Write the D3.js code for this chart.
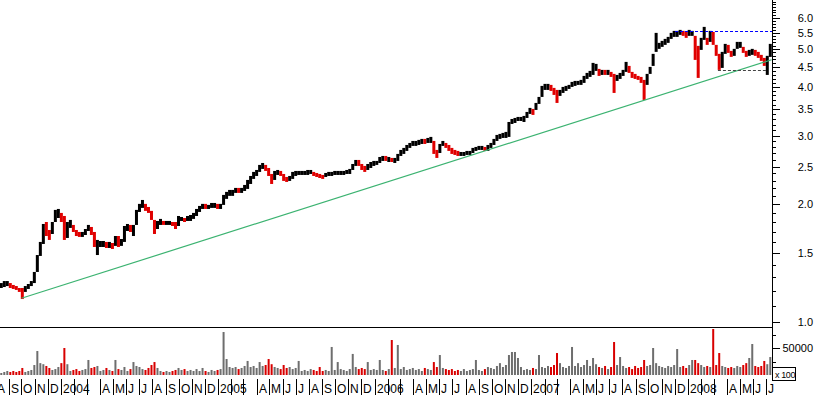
<!DOCTYPE html>
<html lang="en">
<head>
<meta charset="UTF-8">
<title>Weekly price chart</title>
<script src="https://d3js.org/d3.v7.min.js"></script>
<style>
  body { margin: 0; background: #fff; }
  svg { display: block; font-family: "Liberation Sans", Arial, sans-serif; }
</style>
</head>
<body>
<script>
// weekly bars, first one ends on this Friday
var firstWeek = new Date(2003, 7, 15);

var closes = [
  1.236, 1.251, 1.258, 1.236, 1.229, 1.222, 1.208, 1.201, 1.222, 1.236,
  1.258, 1.311, 1.458, 1.566, 1.741, 1.720, 1.660, 1.761, 1.902, 1.902,
  1.857, 1.660, 1.772, 1.782, 1.730, 1.690, 1.670, 1.670, 1.700, 1.741,
  1.700, 1.584, 1.584, 1.584, 1.584, 1.575, 1.575, 1.566, 1.622, 1.584,
  1.603, 1.720, 1.751, 1.730, 1.741, 1.879, 1.970, 2.017, 1.959, 1.936,
  1.879, 1.741, 1.772, 1.803, 1.793, 1.793, 1.793, 1.782, 1.772, 1.836,
  1.836, 1.825, 1.846, 1.846, 1.868, 1.913, 1.947, 1.982, 1.970, 1.970,
  1.982, 1.994, 1.970, 1.970, 2.078, 2.115, 2.140, 2.140, 2.178, 2.165,
  2.178, 2.204, 2.270, 2.324, 2.379, 2.407, 2.479, 2.509, 2.479, 2.407,
  2.297, 2.393, 2.422, 2.393, 2.337, 2.310, 2.324, 2.365, 2.407, 2.407,
  2.407, 2.407, 2.407, 2.422, 2.393, 2.379, 2.365, 2.351, 2.379, 2.393,
  2.393, 2.407, 2.407, 2.407, 2.407, 2.422, 2.422, 2.494, 2.568, 2.553,
  2.494, 2.450, 2.494, 2.524, 2.553, 2.553, 2.599, 2.630, 2.614, 2.614,
  2.599, 2.599, 2.645, 2.708, 2.741, 2.790, 2.839, 2.873, 2.873, 2.873,
  2.907, 2.890, 2.925, 2.925, 2.757, 2.677, 2.790, 2.873, 2.823, 2.790,
  2.741, 2.708, 2.693, 2.693, 2.693, 2.708, 2.708, 2.741, 2.773, 2.790,
  2.790, 2.773, 2.790, 2.839, 2.890, 2.959, 2.977, 2.994, 3.012, 3.157,
  3.270, 3.270, 3.309, 3.309, 3.309, 3.389, 3.470, 3.449, 3.574, 3.702,
  3.950, 3.997, 3.997, 3.974, 3.881, 3.791, 3.858, 3.927, 3.974, 3.997,
  4.069, 4.093, 4.093, 4.093, 4.190, 4.265, 4.316, 4.471, 4.471, 4.341,
  4.367, 4.341, 4.367, 4.290, 4.166, 4.215, 4.265, 4.341, 4.524, 4.419,
  4.290, 4.240, 4.215, 4.166, 3.881, 4.215, 4.419, 4.771, 5.061, 5.091,
  5.151, 5.212, 5.274, 5.400, 5.464, 5.464, 5.528, 5.496, 5.432, 5.496,
  5.496, 4.857, 4.687, 5.212, 5.528, 5.212, 5.464, 5.274, 4.914, 4.605,
  4.743, 5.061, 5.002, 4.857, 4.885, 5.091, 5.121, 4.972, 4.857, 4.885,
  4.914, 4.885, 4.828, 4.743, 4.632, 4.743, 4.972
];

var highs = [
  1.258, 1.273, 1.273, 1.258, 1.244, 1.236, 1.222, 1.222, 1.236, 1.251,
  1.273, 1.343, 1.484, 1.603, 1.782, 1.803, 1.720, 1.803, 1.936, 1.947,
  1.902, 1.868, 1.803, 1.825, 1.772, 1.720, 1.700, 1.700, 1.730, 1.772,
  1.751, 1.700, 1.622, 1.612, 1.612, 1.603, 1.603, 1.593, 1.660, 1.660,
  1.631, 1.761, 1.782, 1.772, 1.772, 1.936, 2.006, 2.053, 2.006, 1.970,
  1.925, 1.825, 1.814, 1.836, 1.814, 1.814, 1.814, 1.803, 1.803, 1.868,
  1.857, 1.846, 1.868, 1.879, 1.902, 1.947, 1.982, 2.006, 2.006, 1.994,
  2.017, 2.017, 2.006, 2.006, 2.115, 2.153, 2.178, 2.178, 2.204, 2.204,
  2.204, 2.243, 2.310, 2.365, 2.422, 2.450, 2.524, 2.553, 2.524, 2.479,
  2.393, 2.436, 2.450, 2.436, 2.393, 2.351, 2.365, 2.422, 2.436, 2.436,
  2.436, 2.436, 2.450, 2.450, 2.422, 2.407, 2.393, 2.379, 2.407, 2.422,
  2.422, 2.436, 2.436, 2.436, 2.436, 2.450, 2.465, 2.538, 2.599, 2.599,
  2.538, 2.509, 2.538, 2.568, 2.584, 2.584, 2.645, 2.661, 2.661, 2.645,
  2.630, 2.630, 2.693, 2.757, 2.790, 2.839, 2.873, 2.907, 2.907, 2.925,
  2.942, 2.942, 2.959, 2.977, 2.907, 2.757, 2.856, 2.907, 2.873, 2.839,
  2.790, 2.757, 2.741, 2.724, 2.724, 2.741, 2.741, 2.790, 2.806, 2.823,
  2.823, 2.806, 2.839, 2.873, 2.942, 3.012, 3.030, 3.048, 3.066, 3.251,
  3.309, 3.329, 3.349, 3.349, 3.369, 3.449, 3.532, 3.511, 3.637, 3.768,
  4.021, 4.069, 4.069, 4.045, 3.974, 3.927, 3.927, 3.997, 4.021, 4.045,
  4.117, 4.141, 4.141, 4.166, 4.265, 4.341, 4.393, 4.605, 4.578, 4.445,
  4.419, 4.419, 4.419, 4.367, 4.316, 4.290, 4.341, 4.419, 4.632, 4.524,
  4.367, 4.316, 4.265, 4.240, 4.166, 4.316, 4.498, 4.857, 5.496, 5.182,
  5.243, 5.305, 5.368, 5.496, 5.561, 5.561, 5.594, 5.561, 5.528, 5.594,
  5.561, 5.400, 5.091, 5.337, 5.694, 5.337, 5.561, 5.528, 5.121, 4.857,
  4.914, 5.151, 5.121, 4.943, 5.002, 5.212, 5.212, 5.061, 4.943, 4.972,
  5.002, 4.972, 4.914, 4.828, 4.743, 4.800, 5.151
];

var lows = [
  1.222, 1.229, 1.236, 1.222, 1.215, 1.208, 1.194, 1.145, 1.194, 1.215,
  1.236, 1.258, 1.343, 1.476, 1.584, 1.660, 1.622, 1.680, 1.803, 1.846,
  1.803, 1.622, 1.641, 1.741, 1.700, 1.660, 1.651, 1.651, 1.670, 1.710,
  1.670, 1.556, 1.484, 1.556, 1.556, 1.547, 1.547, 1.538, 1.566, 1.556,
  1.566, 1.603, 1.710, 1.700, 1.660, 1.772, 1.913, 1.959, 1.925, 1.902,
  1.825, 1.680, 1.730, 1.772, 1.772, 1.772, 1.772, 1.761, 1.730, 1.761,
  1.814, 1.803, 1.814, 1.814, 1.836, 1.868, 1.913, 1.947, 1.947, 1.947,
  1.959, 1.959, 1.947, 1.947, 1.994, 2.066, 2.103, 2.103, 2.140, 2.140,
  2.140, 2.165, 2.191, 2.256, 2.324, 2.365, 2.422, 2.465, 2.436, 2.365,
  2.256, 2.310, 2.379, 2.365, 2.297, 2.283, 2.297, 2.324, 2.365, 2.379,
  2.379, 2.379, 2.379, 2.393, 2.365, 2.351, 2.337, 2.324, 2.351, 2.365,
  2.365, 2.379, 2.379, 2.379, 2.379, 2.393, 2.393, 2.450, 2.509, 2.509,
  2.450, 2.422, 2.450, 2.479, 2.509, 2.524, 2.553, 2.584, 2.584, 2.568,
  2.568, 2.553, 2.584, 2.661, 2.693, 2.741, 2.790, 2.823, 2.823, 2.839,
  2.856, 2.856, 2.873, 2.873, 2.693, 2.630, 2.708, 2.823, 2.790, 2.741,
  2.693, 2.677, 2.661, 2.661, 2.661, 2.677, 2.677, 2.708, 2.741, 2.757,
  2.757, 2.741, 2.741, 2.790, 2.839, 2.907, 2.942, 2.959, 2.959, 2.977,
  3.213, 3.232, 3.270, 3.270, 3.251, 3.329, 3.409, 3.389, 3.490, 3.616,
  3.768, 3.927, 3.927, 3.904, 3.813, 3.637, 3.791, 3.858, 3.904, 3.950,
  3.997, 4.021, 4.045, 4.045, 4.093, 4.190, 4.240, 4.290, 4.393, 4.265,
  4.290, 4.290, 4.290, 4.240, 3.858, 4.141, 4.190, 4.265, 4.367, 4.341,
  4.215, 4.190, 4.166, 4.093, 3.702, 4.045, 4.316, 4.524, 4.914, 5.002,
  5.061, 5.121, 5.182, 5.305, 5.368, 5.368, 5.432, 5.400, 5.337, 5.400,
  5.400, 4.687, 4.215, 4.972, 5.274, 5.121, 5.212, 5.121, 4.800, 4.419,
  4.471, 4.857, 4.885, 4.771, 4.800, 5.002, 5.031, 4.885, 4.771, 4.800,
  4.828, 4.800, 4.743, 4.660, 4.524, 4.290, 4.771
];

// volume in units of 100 shares
var volumes = [
  3700, 5600, 7400, 5600, 7400, 5600, 7400, 13000, 5600, 7400,
  9300, 18500, 44400, 22000, 20000, 16700, 13000, 9300, 11000, 14800,
  22000, 50000, 20000, 7400, 9300, 11000, 7400, 9300, 11000, 27800,
  13000, 14800, 16700, 7400, 9300, 13000, 9300, 7400, 27800, 11000,
  9300, 14800, 7400, 11000, 24000, 16700, 14800, 11000, 9300, 13000,
  18500, 24000, 13000, 7400, 5600, 7400, 5600, 7400, 9300, 13000,
  9300, 11000, 7400, 9300, 7400, 11000, 7400, 13000, 7400, 5600,
  9300, 7400, 9300, 11000, 79600, 29600, 14800, 13000, 14800, 11000,
  13000, 16700, 26000, 14800, 16700, 13000, 24000, 16700, 18500, 29600,
  20000, 14800, 13000, 11000, 18500, 13000, 14800, 11000, 13000, 26000,
  7400, 9300, 7400, 11000, 9300, 7400, 14800, 7400, 9300, 7400,
  51900, 9300, 24000, 11000, 9300, 7400, 11000, 39000, 14800, 11000,
  13000, 11000, 24000, 9300, 11000, 9300, 27800, 9300, 7400, 11000,
  64800, 13000, 55600, 11000, 14800, 9300, 11000, 13000, 9300, 11000,
  7400, 13000, 11000, 9300, 24000, 14800, 37000, 13000, 11000, 9300,
  11000, 7400, 9300, 7400, 11000, 7400, 9300, 11000, 27800, 9300,
  7400, 11000, 14800, 13000, 11000, 16700, 22000, 14800, 18500, 37000,
  42600, 42600, 31500, 14800, 9300, 11000, 9300, 13000, 11000, 37000,
  14800, 13000, 16700, 14800, 18500, 40700, 22000, 14800, 13000, 16700,
  51900, 16700, 22000, 14800, 18500, 27800, 16700, 31500, 20000, 14800,
  13000, 16700, 11000, 14800, 61100, 18500, 33300, 16700, 13000, 14800,
  11000, 16700, 13000, 14800, 27800, 16700, 18500, 50000, 22000, 16700,
  14800, 13000, 16700, 14800, 18500, 48100, 14800, 16700, 13000, 18500,
  27800, 27800, 22000, 18500, 14800, 16700, 14800, 85200, 18500, 40700,
  16700, 14800, 13000, 14800, 13000, 16700, 14800, 18500, 22000, 31500,
  57400, 16700, 14800, 16700, 26000, 20000, 33300
];

// trend line through the 2003 low
var trendDates = [new Date(2003, 9, 1), new Date(2008, 6, 14)];
var trendPrices = [1.15, 4.69];

// horizontal levels
var topLevel = 5.56, topFrom = new Date(2007, 11, 2);
var supportLevel = 4.42, supportFrom = new Date(2008, 2, 11), supportTo = new Date(2008, 6, 1);

var monthLetters = ["J", "F", "M", "A", "M", "J", "J", "A", "S", "O", "N", "D"];
var priceTicks = d3.range(10, 67).map(function(d) { return d / 10; });
var priceLabels = [1.0, 1.5, 2.0, 2.5, 3.0, 3.5, 4.0, 4.5, 5.0, 5.5, 6.0];
var volumeTicks = [25000, 50000, 75000];

var width = 817, height = 395;
var axisX = 772;

var svg = d3.select("body").append("svg")
    .attr("width", width)
    .attr("height", height);

var x = d3.scaleTime()
    .domain([new Date(2003, 7, 12), new Date(2008, 6, 15)])
    .range([0, axisX]);
var y = d3.scaleLog().domain([1, 6]).range([322, 18]);
var yv = d3.scaleLinear().domain([0, 50000]).range([375, 348]);

var bars = closes.map(function(c, i) {
    return {
        date: d3.timeDay.offset(firstWeek, 7 * i),
        close: c, high: highs[i], low: lows[i], vol: volumes[i],
        down: i > 0 && c < closes[i - 1]
    };
});

// volume
svg.append("g").selectAll("rect")
    .data(bars).enter().append("rect")
    .attr("x", function(d) { return x(d.date) - 1; })
    .attr("width", 2)
    .attr("y", function(d) { return yv(d.vol); })
    .attr("height", function(d) { return yv(0) - yv(d.vol); })
    .attr("fill", function(d) { return d.down ? "#d80000" : "#6e6e6e"; });

// price bars
svg.append("g").selectAll("rect")
    .data(bars).enter().append("rect")
    .attr("x", function(d) { return x(d.date) - 1.5; })
    .attr("width", 3)
    .attr("y", function(d) { return y(d.high); })
    .attr("height", function(d) { return Math.max(1.5, y(d.low) - y(d.high)); })
    .attr("fill", function(d) { return d.down ? "#e00000" : "#000"; });

// trend + levels
var trend = d3.line()
    .x(function(d, i) { return x(trendDates[i]); })
    .y(function(d) { return y(d); });
svg.append("path")
    .attr("d", trend(trendPrices))
    .attr("fill", "none")
    .attr("stroke", "#3cb371")
    .attr("stroke-width", 1.2);

svg.append("line")
    .attr("x1", x(topFrom)).attr("x2", axisX)
    .attr("y1", Math.round(y(topLevel)) + 0.5).attr("y2", Math.round(y(topLevel)) + 0.5)
    .attr("stroke", "#0000ff").attr("stroke-dasharray", "3,2");

svg.append("line")
    .attr("x1", x(supportFrom)).attr("x2", x(supportTo))
    .attr("y1", Math.round(y(supportLevel)) + 0.5).attr("y2", Math.round(y(supportLevel)) + 0.5)
    .attr("stroke", "#444").attr("stroke-dasharray", "3,2");

// frame
svg.append("line")
    .attr("x1", 0).attr("x2", axisX)
    .attr("y1", 327.5).attr("y2", 327.5)
    .attr("stroke", "#000");
svg.append("line")
    .attr("x1", axisX + 0.5).attr("x2", axisX + 0.5)
    .attr("y1", 0).attr("y2", 380)
    .attr("stroke", "#000");

// price axis
var pAxis = svg.append("g");
priceTicks.forEach(function(v) {
    var major = priceLabels.indexOf(v) >= 0;
    var ty = Math.round(y(v)) + 0.5;
    pAxis.append("line")
        .attr("x1", axisX).attr("x2", axisX + (major ? 8 : 4))
        .attr("y1", ty).attr("y2", ty)
        .attr("stroke", "#000");
    if (major) {
        pAxis.append("text")
            .attr("x", 813).attr("y", ty)
            .attr("dy", "0.35em")
            .attr("text-anchor", "end")
            .attr("font-size", 11)
            .text(v.toFixed(1));
    }
});

// volume axis
volumeTicks.forEach(function(v) {
    var ty = Math.round(yv(v)) + 0.5;
    svg.append("line")
        .attr("x1", axisX).attr("x2", axisX + (v === 50000 ? 8 : 4))
        .attr("y1", ty).attr("y2", ty)
        .attr("stroke", "#000");
    if (v === 50000) {
        svg.append("text")
            .attr("x", 813).attr("y", ty)
            .attr("dy", "0.35em")
            .attr("text-anchor", "end")
            .attr("font-size", 11)
            .text(v);
    }
});

svg.append("rect")
    .attr("x", axisX + 0.5).attr("y", 367.5)
    .attr("width", 23).attr("height", 13)
    .attr("fill", "#fff").attr("stroke", "#000");
svg.append("text")
    .attr("x", axisX + 3).attr("y", 377.5)
    .attr("font-size", 9)
    .attr("letter-spacing", -0.4)
    .text("x 100");

// month axis
var months = d3.timeMonth.range(new Date(2003, 7, 1), new Date(2008, 7, 1));
var mAxis = svg.append("g");
months.forEach(function(m) {
    var mx = Math.round(x(m)) + 0.5;
    mAxis.append("line")
        .attr("x1", mx).attr("x2", mx)
        .attr("y1", 379).attr("y2", 395)
        .attr("stroke", "#000");
    var k = m.getMonth();
    if (k === 1 || k === 2) return;
    mAxis.append("text")
        .attr("x", mx + 1.5).attr("y", 393)
        .attr("font-size", 12)
        .text(k === 0 ? m.getFullYear() : monthLetters[k]);
});
</script>
</body>
</html>
